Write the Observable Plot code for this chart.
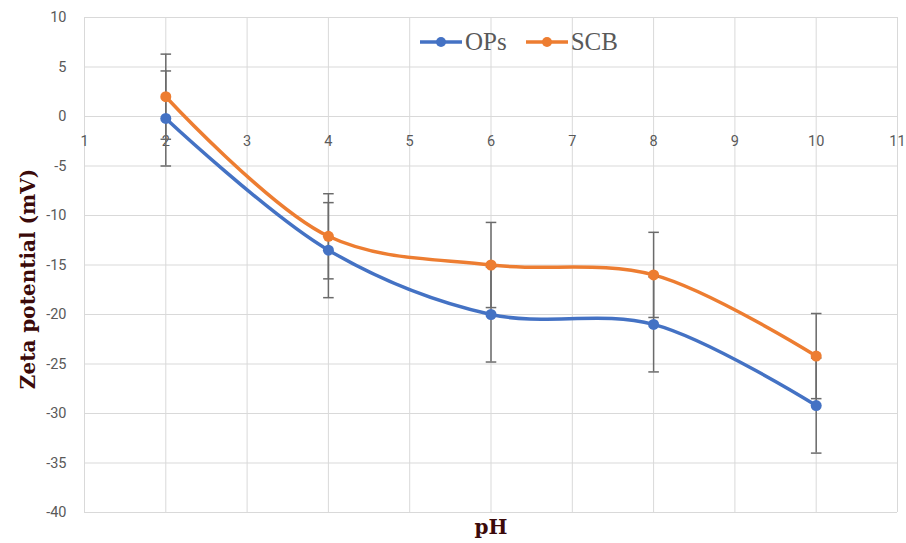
<!DOCTYPE html>
<html>
<head>
<meta charset="utf-8">
<script src="https://cdn.jsdelivr.net/npm/d3@7"></script>
<script src="https://cdn.jsdelivr.net/npm/@observablehq/plot@0.6"></script>
<style>
  html, body { margin: 0; padding: 0; background: #fff; }
  #wrap { position: relative; width: 906px; height: 543px; }
  #legend { position: absolute; left: 419px; top: 28px; display: flex; align-items: center;
    font-family: "Liberation Serif", "Times New Roman", serif; font-size: 25px; color: #595959; }
  #legend .item { display: flex; align-items: center; margin-right: 18px; }
  #legend svg { margin-right: 2px; }
</style>
</head>
<body>
<div id="wrap">
  <div id="chart"></div>
  <div id="legend"></div>
</div>
<script>
const pH = [2, 4, 6, 8, 10];
const opsValues = [-0.2, -13.5, -20.0, -21.0, -29.2];
const scbValues = [2.0, -12.1, -15.0, -16.0, -24.2];
const opsError = [4.8, 4.8, 4.8, 4.8, 4.8];
const scbError = [4.3, 4.3, 4.3, 4.3, 4.3];
const seriesNames = ["OPs", "SCB"];
const seriesColors = ["#4472C4", "#ED7D31"];
const xTicks = [1, 2, 3, 4, 5, 6, 7, 8, 9, 10, 11];
const yTicks = [10, 5, 0, -5, -10, -15, -20, -25, -30, -35, -40];

const rows = [];
pH.forEach((p, i) => {
  rows.push({series: "OPs", pH: p, value: opsValues[i], err: opsError[i]});
  rows.push({series: "SCB", pH: p, value: scbValues[i], err: scbError[i]});
});
const capHalf = 0.065;
const titleFont = "'DejaVu Serif', 'Liberation Serif', serif";

const chart = Plot.plot({
  width: 906,
  height: 543,
  marginLeft: 84,
  marginRight: 9,
  marginTop: 17,
  marginBottom: 31,
  style: {fontFamily: "'Liberation Sans Narrow', 'Roboto', sans-serif", background: "#fff"},
  x: {domain: [1, 11], ticks: xTicks, axis: null},
  y: {domain: [-40, 10], ticks: yTicks, axis: null},
  color: {domain: seriesNames, range: seriesColors},
  marks: [
    Plot.gridX(xTicks, {stroke: "#d9d9d9", strokeOpacity: 1, strokeWidth: 1}),
    Plot.gridY(yTicks, {stroke: "#d9d9d9", strokeOpacity: 1, strokeWidth: 1}),
    Plot.axisY(yTicks, {tickSize: 0, tickPadding: 18, fontSize: 14.5, color: "#595959", label: null, tickFormat: d => String(d)}),
    Plot.text(xTicks, {x: d => d, y: () => 0, dy: 25, text: d => String(d), fontSize: 14.5, fill: "#595959"}),
    Plot.line(rows, {x: "pH", y: "value", stroke: "series", z: "series", strokeWidth: 3.5, curve: "catmull-rom"}),
    Plot.ruleX(rows, {x: "pH", y1: d => d.value - d.err, y2: d => d.value + d.err, stroke: "#6b6b6b", strokeWidth: 1.5}),
    Plot.link(rows, {x1: d => d.pH - capHalf, x2: d => d.pH + capHalf, y1: d => d.value + d.err, y2: d => d.value + d.err, stroke: "#6b6b6b", strokeWidth: 1.5}),
    Plot.link(rows, {x1: d => d.pH - capHalf, x2: d => d.pH + capHalf, y1: d => d.value - d.err, y2: d => d.value - d.err, stroke: "#6b6b6b", strokeWidth: 1.5}),
    Plot.dot(rows, {x: "pH", y: "value", fill: "series", r: 5.5}),
    Plot.text(["Zeta potential (mV)"], {frameAnchor: "left", textAnchor: "middle", dx: -56, dy: 14, rotate: -90, text: d => d, fontSize: 20, fontWeight: "bold", fill: "#3b0a0a", fontFamily: titleFont}),
    Plot.text(["pH"], {frameAnchor: "bottom", dy: 21, text: d => d, fontSize: 20, fontWeight: "bold", fill: "#3b0a0a", fontFamily: titleFont})
  ]
});
document.getElementById("chart").appendChild(chart);

const legend = document.getElementById("legend");
seriesNames.forEach((name, i) => {
  const item = document.createElement("div");
  item.className = "item";
  item.innerHTML = `<svg width="44" height="12"><line x1="1" y1="6" x2="43" y2="6" stroke="${seriesColors[i]}" stroke-width="3.5"/><circle cx="22" cy="6" r="5" fill="${seriesColors[i]}"/></svg><span>${name}</span>`;
  legend.appendChild(item);
});
</script>
</body>
</html>
